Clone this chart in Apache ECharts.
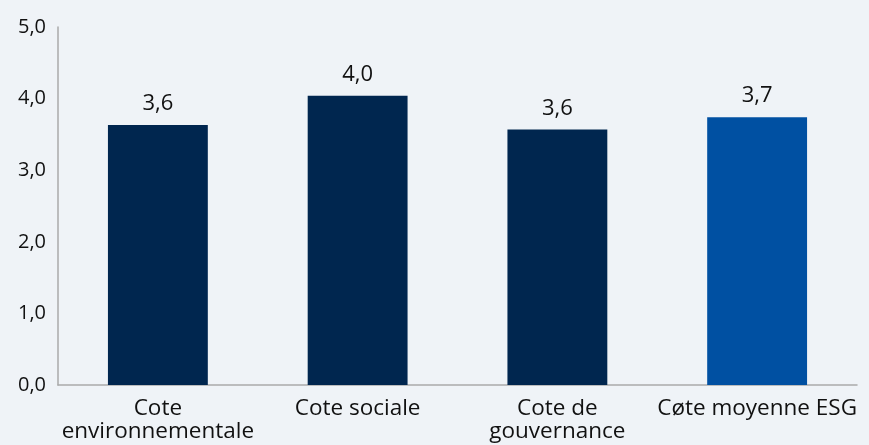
<!DOCTYPE html>
<html><head><meta charset="utf-8">
<script src="https://cdn.jsdelivr.net/npm/echarts@6/dist/echarts.min.js"></script>
<style>html,body{margin:0;padding:0;background:#eff3f7;}#c{width:869px;height:445px;}</style>
</head><body><div id="c"></div>
<script>
const categories = ["Cote\nenvironnementale", "Cote sociale", "Cote de\ngouvernance", "Cøte moyenne ESG"];
const values = [3.63, 4.04, 3.57, 3.74];
const labels = ["3,6", "4,0", "3,6", "3,7"];
const colors = ["#00264f", "#00264f", "#00264f", "#0050a2"];
const yTicks = ["0,0", "1,0", "2,0", "3,0", "4,0", "5,0"];

const chart = echarts.init(document.getElementById('c'));
chart.setOption({
  backgroundColor: '#eff3f7',
  animation: false,
  grid: {left: 58, right: 12, top: 27, bottom: 60, containLabel: false},
  xAxis: {
    type: 'category', data: categories,
    axisLine: {show: true, lineStyle: {color: '#aaaaaa', width: 1.5}},
    axisTick: {show: false},
    axisLabel: {color: '#111', fontSize: 22.5, fontFamily: 'Open Sans', lineHeight: 23, margin: 12, interval: 0}
  },
  yAxis: {
    type: 'value', min: 0, max: 5, interval: 1,
    axisLine: {show: true, lineStyle: {color: '#aaaaaa', width: 1.5}},
    axisTick: {show: false},
    splitLine: {show: false},
    axisLabel: {color: '#111', fontSize: 20, fontFamily: 'Open Sans', margin: 12,
      formatter: (v) => yTicks[Math.round(v)]}
  },
  series: [{
    type: 'bar', barWidth: '50%',
    data: values.map((v, i) => ({value: v, itemStyle: {color: colors[i]}})),
    label: {show: true, position: 'top', distance: 10, color: '#111', fontSize: 22, fontFamily: 'Open Sans',
      formatter: (p) => labels[p.dataIndex]}
  }]
});
</script></body></html>
